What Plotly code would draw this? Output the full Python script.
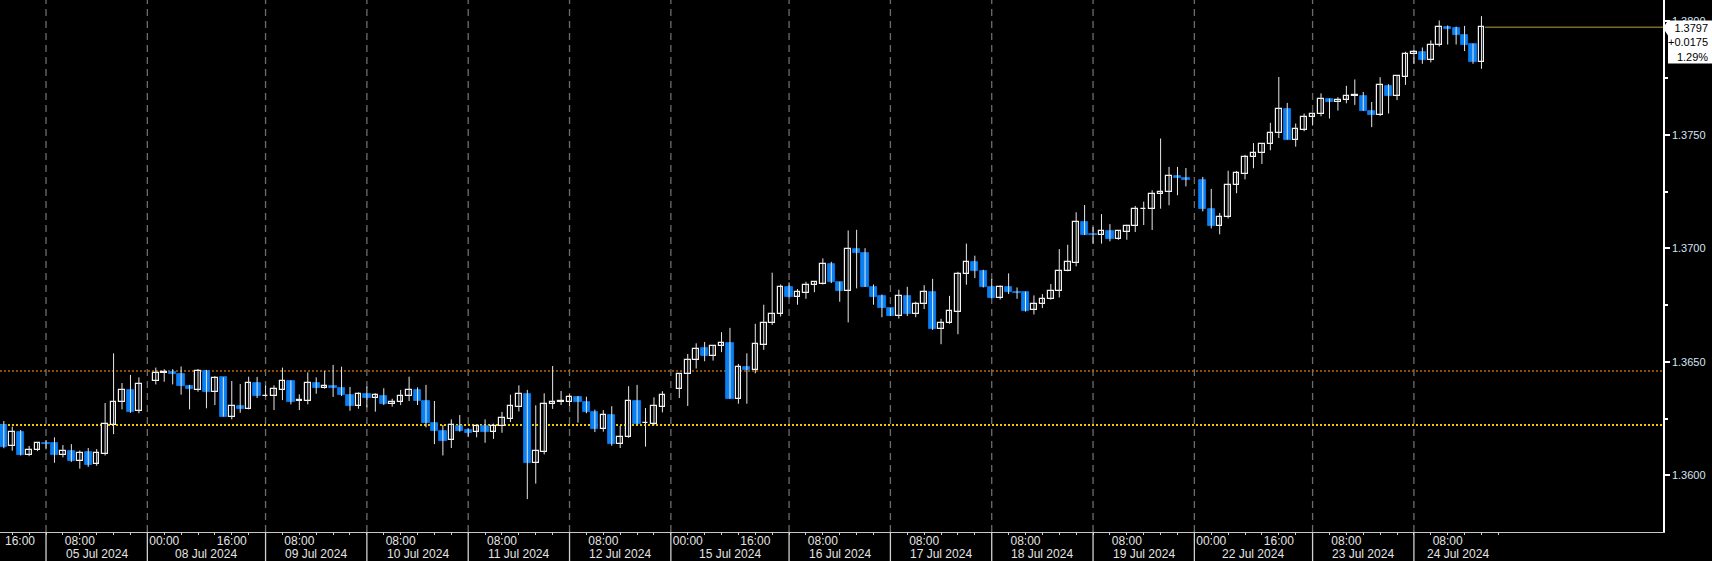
import plotly.graph_objects as go

# ---------------- data (2-hour candles, index = slot on the compressed time axis) ----------------
opens = [1.36221, 1.36129, 1.36191, 1.36088, 1.36110, 1.36142, 1.36143, 1.36091, 1.36107, 1.36065,
         1.36103, 1.36050, 1.36096, 1.36222, 1.36322, 1.36376, 1.36282, None, 1.36415, 1.36452,
         1.36456, 1.36447, 1.36396, 1.36376, 1.36459, 1.36369, 1.36432, 1.36259, 1.36306, 1.36294,
         1.36407, 1.36350, 1.36350, 1.36378, 1.36416, 1.36330, 1.36329, 1.36407, 1.36385, 1.36396,
         1.36387, 1.36356, 1.36307, 1.36359, 1.36343, 1.36352, 1.36315, 1.36322, 1.36350, 1.36375,
         1.36328, 1.36230, 1.36197, 1.36155, 1.36219, 1.36200, 1.36190, 1.36218, 1.36193, 1.36216,
         1.36250, 1.36303, 1.36359, 1.36056, 1.36105, 1.36316, 1.36324, 1.36324, 1.36347, 1.36322,
         1.36280, 1.36203, 1.36265, 1.36137, 1.36169, 1.36327, 1.36229, 1.36227, 1.36303, None,
         1.36380, 1.36446, 1.36507, 1.36560, 1.36524, 1.36569, 1.36585, 1.36338, 1.36478, 1.36466,
         1.36575, 1.36671, 1.36709, 1.36831, 1.36784, 1.36805, 1.36838, 1.36843, 1.36932, 1.36853,
         1.36812, 1.36996, 1.36981, 1.36831, 1.36791, 1.36738, 1.36702, 1.36791, 1.36713, 1.36756,
         1.36809, 1.36644, 1.36671, 1.36722, 1.36887, 1.36941, 1.36900, 1.36831, 1.36780, 1.36831,
         1.36810, 1.36806, 1.36727, 1.36753, 1.36777, 1.36812, 1.36899, 1.36937, 1.37115, 1.37063,
         1.37057, 1.37078, 1.37041, 1.37072, 1.37097, 1.37173, 1.37172, 1.37241, 1.37247, 1.37319,
         1.37312, None, 1.37303, 1.37173, 1.37097, 1.37137, 1.37279, 1.37326, 1.37401, 1.37419,
         1.37460, 1.37507, 1.37616, 1.37479, 1.37522, 1.37579, 1.37591, 1.37660, 1.37645, 1.37654,
         1.37672, 1.37672, 1.37607, 1.37586, 1.37717, 1.37672, 1.37755, 1.37854, 1.37864, 1.37830,
         1.37895, 1.37974, 1.37969, 1.37941, 1.37902, 1.37819]
highs = [1.36240, 1.36215, 1.36200, 1.36130, 1.36146, 1.36156, 1.36168, 1.36134, 1.36138, 1.36110,
         1.36121, 1.36116, 1.36319, 1.36538, 1.36407, 1.36443, 1.36432, None, 1.36475, 1.36468,
         1.36468, 1.36480, 1.36399, 1.36469, 1.36465, 1.36437, 1.36432, 1.36416, 1.36403, 1.36435,
         1.36434, 1.36396, 1.36397, 1.36475, 1.36419, 1.36357, 1.36454, 1.36432, 1.36460, 1.36487,
         1.36479, 1.36390, 1.36366, 1.36391, 1.36362, 1.36384, 1.36338, 1.36377, 1.36435, 1.36388,
         1.36399, 1.36328, 1.36222, 1.36247, 1.36266, 1.36208, 1.36219, 1.36247, 1.36228, 1.36280,
         1.36356, 1.36397, 1.36377, 1.36309, 1.36362, 1.36482, 1.36372, 1.36357, 1.36350, 1.36347,
         1.36290, 1.36288, 1.36305, 1.36218, 1.36393, 1.36399, 1.36297, 1.36344, 1.36371, None,
         1.36451, 1.36535, 1.36582, 1.36588, 1.36572, 1.36631, 1.36650, 1.36491, 1.36538, 1.36668,
         1.36752, 1.36893, 1.36841, 1.36850, 1.36821, 1.36853, 1.36854, 1.36956, 1.36941, 1.36853,
         1.37079, 1.37082, 1.37001, 1.36841, 1.36797, 1.36738, 1.36818, 1.36831, 1.36765, 1.36838,
         1.36866, 1.36690, 1.36791, 1.36897, 1.37021, 1.36968, 1.36906, 1.36865, 1.36837, 1.36890,
         1.36828, 1.36810, 1.36793, 1.36799, 1.36843, 1.36997, 1.37016, 1.37159, 1.37191, 1.37094,
         1.37151, 1.37107, 1.37079, 1.37104, 1.37187, 1.37206, 1.37256, 1.37484, 1.37359, 1.37359,
         1.37354, None, 1.37315, 1.37262, 1.37156, 1.37342, 1.37341, 1.37412, 1.37464, 1.37461,
         1.37553, 1.37755, 1.37641, 1.37550, 1.37594, 1.37598, 1.37683, 1.37660, 1.37666, 1.37716,
         1.37744, 1.37689, 1.37645, 1.37754, 1.37723, 1.37761, 1.37866, 1.37873, 1.37885, 1.37916,
         1.38004, 1.37982, 1.37977, 1.37980, 1.37902, 1.38023]
lows = [1.36120, 1.36109, 1.36088, 1.36085, 1.36107, 1.36115, 1.36056, 1.36080, 1.36060, 1.36030,
        1.36038, 1.36043, 1.36088, 1.36182, 1.36291, 1.36276, 1.36274, None, 1.36401, 1.36413,
        1.36401, 1.36356, 1.36291, 1.36369, 1.36296, 1.36310, 1.36259, 1.36247, 1.36276, 1.36291,
        1.36341, 1.36347, 1.36288, 1.36332, 1.36313, 1.36288, 1.36313, 1.36360, 1.36382, 1.36346,
        1.36350, 1.36285, 1.36294, 1.36300, 1.36281, 1.36310, 1.36303, 1.36310, 1.36328, 1.36310,
        1.36212, 1.36138, 1.36088, 1.36121, 1.36193, 1.36169, 1.36168, 1.36144, 1.36161, 1.36188,
        1.36235, 1.36282, 1.35896, 1.35964, 1.36093, 1.36293, 1.36310, 1.36306, 1.36233, 1.36274,
        1.36191, 1.36193, 1.36131, 1.36121, 1.36166, 1.36222, 1.36127, 1.36222, 1.36278, None,
        1.36341, 1.36306, 1.36471, 1.36503, 1.36506, 1.36543, 1.36338, 1.36316, 1.36316, 1.36450,
        1.36553, 1.36663, 1.36700, 1.36784, 1.36752, 1.36778, 1.36807, 1.36841, 1.36847, 1.36765,
        1.36674, 1.36824, 1.36830, 1.36752, 1.36697, 1.36702, 1.36691, 1.36702, 1.36697, 1.36733,
        1.36641, 1.36578, 1.36668, 1.36622, 1.36840, 1.36869, 1.36828, 1.36780, 1.36775, 1.36799,
        1.36778, 1.36722, 1.36709, 1.36737, 1.36774, 1.36784, 1.36899, 1.36921, 1.37059, 1.37021,
        1.37021, 1.37031, 1.37038, 1.37038, 1.37072, 1.37103, 1.37081, 1.37175, 1.37190, 1.37234,
        1.37273, None, 1.37163, 1.37088, 1.37062, 1.37132, 1.37243, 1.37304, 1.37353, 1.37372,
        1.37432, 1.37486, 1.37479, 1.37448, 1.37516, 1.37541, 1.37582, 1.37572, 1.37607, 1.37639,
        1.37632, 1.37606, 1.37534, 1.37583, 1.37594, 1.37653, 1.37720, 1.37813, 1.37813, 1.37819,
        1.37889, 1.37898, 1.37898, 1.37869, 1.37813, 1.37791]
closes = [1.36126, 1.36190, 1.36088, 1.36110, 1.36141, 1.36138, 1.36088, 1.36106, 1.36065, 1.36099,
          1.36046, 1.36099, 1.36225, 1.36324, 1.36375, 1.36281, 1.36403, None, 1.36451, 1.36456,
          1.36446, 1.36394, 1.36380, 1.36459, 1.36369, 1.36431, 1.36259, 1.36306, 1.36294, 1.36407,
          1.36350, 1.36352, 1.36379, 1.36415, 1.36325, 1.36331, 1.36407, 1.36387, 1.36396, 1.36387,
          1.36353, 1.36307, 1.36359, 1.36343, 1.36353, 1.36316, 1.36324, 1.36352, 1.36375, 1.36327,
          1.36230, 1.36197, 1.36153, 1.36221, 1.36197, 1.36188, 1.36216, 1.36193, 1.36218, 1.36252,
          1.36305, 1.36359, 1.36056, 1.36106, 1.36316, 1.36325, 1.36326, 1.36347, 1.36322, 1.36278,
          1.36203, 1.36265, 1.36137, 1.36169, 1.36327, 1.36228, 1.36230, 1.36305, 1.36356, None,
          1.36447, 1.36509, 1.36559, 1.36524, 1.36569, 1.36585, 1.36338, 1.36478, 1.36466, 1.36578,
          1.36672, 1.36712, 1.36831, 1.36784, 1.36806, 1.36838, 1.36852, 1.36932, 1.36850, 1.36813,
          1.36997, 1.36979, 1.36830, 1.36788, 1.36738, 1.36702, 1.36791, 1.36713, 1.36756, 1.36809,
          1.36643, 1.36671, 1.36724, 1.36888, 1.36940, 1.36899, 1.36828, 1.36780, 1.36831, 1.36810,
          1.36805, 1.36725, 1.36755, 1.36778, 1.36813, 1.36900, 1.36940, 1.37115, 1.37059, 1.37057,
          1.37078, 1.37041, 1.37076, 1.37100, 1.37175, 1.37175, 1.37241, 1.37248, 1.37319, 1.37309,
          1.37301, None, 1.37173, 1.37097, 1.37138, 1.37279, 1.37332, 1.37403, 1.37420, 1.37460,
          1.37509, 1.37616, 1.37479, 1.37525, 1.37579, 1.37592, 1.37660, 1.37645, 1.37655, 1.37672,
          1.37673, 1.37606, 1.37586, 1.37720, 1.37673, 1.37758, 1.37854, 1.37866, 1.37830, 1.37898,
          1.37974, 1.37966, 1.37938, 1.37898, 1.37819, 1.37974]

# time-axis labels (slot index of the labelled candle)
first_tick_idx, first_tick_text = 1, "16:00"     # 04 Jul 16:00, left edge
tick_idx = [9, 19, 27, 35, 47, 59, 71, 81, 89, 97, 109, 121, 133, 143, 151, 159, 171]
tick_text = ["08:00", "00:00", "16:00", "08:00", "08:00", "08:00", "08:00", "00:00",
             "16:00", "08:00", "08:00", "08:00", "08:00", "00:00", "16:00", "08:00", "08:00"]
# day separators (slot index where each session starts) and date labels
day_start_idx = [5, 17, 31, 43, 55, 67, 79, 93, 105, 117, 129, 141, 155, 167]
day_labels = ["05 Jul 2024", "08 Jul 2024", "09 Jul 2024", "10 Jul 2024", "11 Jul 2024",
              "12 Jul 2024", "15 Jul 2024", "16 Jul 2024", "17 Jul 2024", "18 Jul 2024",
              "19 Jul 2024", "22 Jul 2024", "23 Jul 2024", "24 Jul 2024"]
last_day_end = 177.5

prev_close = 1.36222      # yellow dotted reference
ref_level = 1.3646        # orange dotted reference
y_ticks = [1.3600, 1.3650, 1.3700, 1.3750, 1.3800]

# ---------------- layout constants ----------------
W, H = 1712, 561
ML, MR, MT, MB = 0, 49, 0, 29
PW, PH = W - ML - MR, H - MT - MB
X_RANGE = [-0.45, 196.5]
Y_RANGE = [1.35751, 1.38094]
BLUE = "#0a80f5"
FONT = "Liberation Sans"


def pxp(xpx):
    return (xpx - ML) / PW


def pyp(ypx):
    return (MT + PH - ypx) / PH


idx = list(range(len(opens)))

# wicks
wx, wy = [], []
for i, o, h, l, c in zip(idx, opens, highs, lows, closes):
    if o is None:
        continue
    wx += [i, i, None]
    wy += [l, h, None]

up_x, up_b, up_h, dn_x, dn_b, dn_h = [], [], [], [], [], []
for i, o, c in zip(idx, opens, closes):
    if o is None:
        continue
    if c >= o:
        up_x.append(i); up_b.append(o); up_h.append(max(c - o, 0.000015))
    else:
        dn_x.append(i); dn_b.append(c); dn_h.append(max(o - c, 0.00002))

fig = go.Figure()
fig.add_trace(go.Scatter(x=wx, y=wy, mode="lines", line=dict(color="#e8e8e8", width=1),
                         hoverinfo="skip", showlegend=False))
fig.add_trace(go.Bar(x=up_x, y=up_h, base=up_b, width=0.66,
                     marker=dict(color="#000000", line=dict(color="#f2f2f2", width=1.2)),
                     showlegend=False, hoverinfo="skip"))
fig.add_trace(go.Bar(x=dn_x, y=dn_h, base=dn_b, width=0.86,
                     marker=dict(color=BLUE, line=dict(color=BLUE, width=0.8)),
                     showlegend=False, hoverinfo="skip"))

# day separators: dashed in plot, solid in the axis strip
for d in day_start_idx:
    fig.add_shape(type="line", xref="x", yref="paper", x0=d, x1=d, y0=0, y1=1,
                  line=dict(color="#6c6c6c", width=1.3, dash="7px,5px"), layer="below")
    fig.add_shape(type="line", xref="x", yref="paper", x0=d, x1=d, y0=0, y1=pyp(H),
                  line=dict(color="#d0d0d0", width=1.3), layer="above")

# minor 4-hour ticks along the time axis
minor_ticks = [1, 3]
for k, d in enumerate(day_start_idx):
    end = day_start_idx[k + 1] if k + 1 < len(day_start_idx) else 178
    minor_ticks += list(range(d, end, 2))

# reference lines
fig.add_shape(type="line", xref="paper", yref="y", x0=0, x1=1, y0=ref_level, y1=ref_level,
              line=dict(color="#b86a12", width=1.6, dash="2px,2px"), layer="below")
fig.add_shape(type="line", xref="paper", yref="y", x0=0, x1=1, y0=prev_close, y1=prev_close,
              line=dict(color="#f2c800", width=2, dash="2px,2px"), layer="below")

last = closes[-1]
fig.add_shape(type="line", xref="x", yref="y", x0=len(opens) - 1 + 0.4, x1=X_RANGE[1],
              y0=last, y1=last, line=dict(color="#7d6a24", width=1.6), layer="below")

# date labels
for k, (d, lab) in enumerate(zip(day_start_idx, day_labels)):
    end = day_start_idx[k + 1] if k + 1 < len(day_start_idx) else last_day_end
    fig.add_annotation(x=(d + end) / 2, xref="x", y=pyp(554), yref="paper", text=lab,
                       showarrow=False, xanchor="center", yanchor="middle",
                       font=dict(family=FONT, size=12, color="#e4e4e4"))

# left-edge time label (kept inside the page)
fig.add_annotation(x=pxp(3), xref="paper", y=pyp(540.5), yref="paper", text=first_tick_text,
                   showarrow=False, xanchor="left", yanchor="middle",
                   font=dict(family=FONT, size=12, color="#e4e4e4"))

# last-price tag
tag_y = 28
fig.add_shape(type="path", xref="paper", yref="paper",
              path=f"M {pxp(1663)},{pyp(tag_y)} L {pxp(1668)},{pyp(20.5)} L {pxp(1712)},{pyp(20.5)} "
                   f"L {pxp(1712)},{pyp(63.5)} L {pxp(1668)},{pyp(63.5)} L {pxp(1668)},{pyp(35.5)} Z",
              fillcolor="#ffffff", line=dict(width=0), layer="above")
chg = last - prev_close
pct = chg / prev_close * 100
fig.add_annotation(x=pxp(1710), xref="paper", y=pyp(42.5), yref="paper",
                   text=f"{last:.4f}<br>{chg:+.4f}<br>{pct:.2f}%", showarrow=False,
                   xanchor="right", yanchor="middle", align="right",
                   font=dict(family=FONT, size=11, color="#000000"))

fig.update_layout(
    width=W, height=H, margin=dict(l=ML, r=MR, t=MT, b=MB, pad=0),
    paper_bgcolor="#000000", plot_bgcolor="#000000",
    barmode="overlay", bargap=0, showlegend=False, hovermode=False,
    font=dict(family=FONT, color="#e4e4e4"),
)
fig.update_xaxes(range=X_RANGE, showgrid=False, zeroline=False, automargin=False,
                 tickmode="array", tickvals=tick_idx, ticktext=tick_text,
                 ticks="outside", ticklen=2, tickcolor="#d0d0d0", tickwidth=1,
                 minor=dict(tickmode="array", tickvals=minor_ticks, ticks="outside", ticklen=2,
                            tickcolor="#d0d0d0", tickwidth=1, showgrid=False),
                 tickfont=dict(family=FONT, size=12, color="#e4e4e4"),
                 ticklabelstandoff=-5,
                 showline=True, linecolor="#c8c8c8", linewidth=1.3, fixedrange=True)
fig.update_yaxes(range=Y_RANGE, side="right", showgrid=False, zeroline=False, automargin=False,
                 tickmode="array", tickvals=y_ticks, ticktext=[f"{v:.4f}" for v in y_ticks],
                 ticks="outside", ticklen=5, tickwidth=2, tickcolor="#ffffff",
                 minor=dict(dtick=0.0025, tick0=1.3575, ticklen=3, tickcolor="#ffffff",
                            ticks="outside", showgrid=False),
                 tickfont=dict(family=FONT, size=11, color="#d4e4f4"),
                 showline=True, linecolor="#ffffff", linewidth=1.5, fixedrange=True)

fig.write_html("out.html", config={"displayModeBar": False},
               post_script="document.body.style.margin='0';document.body.style.overflow='hidden';")
